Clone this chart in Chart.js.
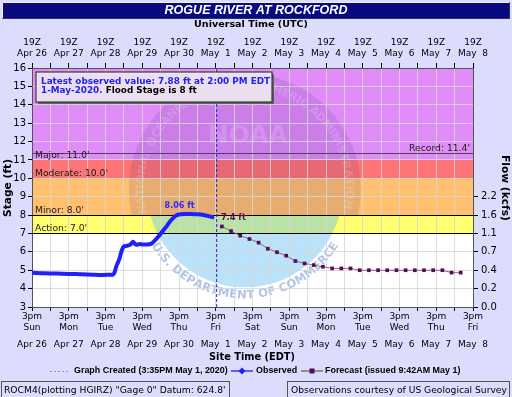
<!DOCTYPE html>
<html>
<head>
<meta charset="utf-8">
<script src="https://cdn.jsdelivr.net/npm/chart.js@4.4.1/dist/chart.umd.min.js"></script>
<style>
  html, body { margin: 0; padding: 0; background: #dcdcfc; }
  #wrap { position: absolute; left: 0; top: 0; width: 512px; height: 397px; }
</style>
</head>
<body>
<div id="wrap"><canvas id="myChart" width="512" height="397"></canvas></div>
<script>
// hours since Sun Apr 26 3pm EDT (19Z)
const obsHours = [0, 3, 8, 16, 24, 32, 40, 44, 50, 53, 54, 55, 56, 57, 58, 59, 60, 62, 64, 66, 67, 68, 70, 72, 75, 78, 80, 82, 84, 86, 88, 90, 92, 94, 96, 99, 104, 108, 112, 115, 117, 119];
const obsStage = [4.87, 4.85, 4.83, 4.82, 4.8, 4.78, 4.76, 4.74, 4.75, 4.76, 4.9, 5.2, 5.4, 5.6, 5.9, 6.15, 6.3, 6.33, 6.38, 6.55, 6.45, 6.38, 6.42, 6.4, 6.4, 6.45, 6.6, 6.78, 6.98, 7.2, 7.4, 7.64, 7.82, 7.97, 8.03, 8.06, 8.06, 8.04, 8.0, 7.95, 7.9, 7.88];

const fcstHours = [124, 130, 136, 142, 148, 154, 160, 166, 172, 178, 184, 190, 196, 202, 208, 214, 220, 226, 232, 238, 244, 250, 256, 262, 268, 274, 280];
const fcstStage = [7.38, 7.13, 6.88, 6.7, 6.5, 6.17, 5.98, 5.79, 5.5, 5.37, 5.28, 5.19, 5.1, 5.1, 5.1, 5.0, 5.0, 5.0, 5.0, 5.0, 5.0, 5.0, 5.0, 5.0, 5.0, 4.87, 4.87];

const createdHour = 120.6;

const dayNames = ["Sun", "Mon", "Tue", "Wed", "Thu", "Fri", "Sat", "Sun", "Mon", "Tue", "Wed", "Thu", "Fri"];
const dateLabels = ["Apr 26", "Apr 27", "Apr 28", "Apr 29", "Apr 30", "May  1", "May  2", "May  3", "May  4", "May  5", "May  6", "May  7", "May  8"];

const flowStages = [3, 4, 5, 6, 7, 8, 9];
const flowLabels = ["0.0", "0.2", "0.4", "0.7", "1.1", "1.6", "2.2"];

// flood categories
const bandLevels = [7, 8, 10, 11, 16];
const bandColors = ["#ffff70", "#ffc070", "#ff7474", "#e08cf8"];
const catNames = ["Action: 7.0'", "Minor: 8.0'", "Moderate: 10.0'", "Major: 11.0'"];
const catLevels = [7, 8, 10, 11];
const recordStage = 11.4;

function fitFont(ctx, text, weight, family, width) {
  ctx.font = weight + " 10px " + family;
  const w = ctx.measureText(text).width;
  return weight + " " + (10 * width / w).toFixed(2) + "px " + family;
}

function arcText(ctx, text, cx, cy, r, startAng, dir) {
  let ang = startAng;
  for (const ch of text) {
    const da = ctx.measureText(ch).width / r;
    const a = ang + dir * da / 2;
    ctx.save();
    ctx.translate(cx + r * Math.cos(a), cy + r * Math.sin(a));
    ctx.rotate(dir === 1 ? a + Math.PI / 2 : a - Math.PI / 2);
    ctx.fillText(ch, 0, 0);
    ctx.restore();
    ang += dir * da;
  }
}

function fitArc(ctx, text, family, r, span) {
  ctx.font = "bold 10px " + family;
  const w = ctx.measureText(text).width;
  ctx.font = "bold " + (10 * r * span / w).toFixed(2) + "px " + family;
}

const backdrop = {
  id: "backdrop",
  beforeDraw(chart) {
    const { ctx, chartArea: a, scales } = chart;
    const y = scales.y, x = scales.x;
    ctx.save();
    ctx.fillStyle = "#ffffff";
    ctx.fillRect(a.left, a.top, a.width, a.height);
    for (let i = 0; i < bandColors.length; i++) {
      const y1 = y.getPixelForValue(bandLevels[i + 1]);
      const y0 = y.getPixelForValue(bandLevels[i]);
      ctx.fillStyle = bandColors[i];
      ctx.fillRect(a.left, y1, a.width, y0 - y1);
    }
    // NOAA seal watermark
    ctx.beginPath();
    ctx.rect(a.left, a.top, a.width, a.height);
    ctx.clip();
    const cx = x.getPixelForValue(139), cy = y.getPixelForValue(9.4);
    const r1 = 92, r2 = 116, split = cy + 26;
    ctx.save();
    ctx.beginPath();
    ctx.rect(a.left, a.top, a.width, split - a.top);
    ctx.clip();
    ctx.fillStyle = "rgba(40,20,120,0.11)";
    ctx.beginPath();
    ctx.arc(cx, cy, r2, 0, Math.PI * 2);
    ctx.fill();
    ctx.restore();
    ctx.save();
    ctx.beginPath();
    ctx.rect(a.left, split, a.width, a.bottom - split);
    ctx.clip();
    ctx.fillStyle = "rgba(90,185,240,0.42)";
    ctx.beginPath();
    ctx.arc(cx, cy, r1 + 6, 0, Math.PI * 2);
    ctx.fill();
    ctx.restore();
    ctx.textAlign = "center";
    ctx.textBaseline = "middle";
    fitArc(ctx, "NATIONAL OCEANIC AND ATMOSPHERIC ADMINISTRATION", "'DejaVu Sans'", 104, 3.55);
    ctx.fillStyle = "rgba(255,255,255,0.16)";
    arcText(ctx, "NATIONAL OCEANIC AND ATMOSPHERIC ADMINISTRATION", cx, cy, 104, 2.9, 1);
    fitArc(ctx, "U.S. DEPARTMENT OF COMMERCE", "'DejaVu Sans'", 106, 2.05);
    ctx.fillStyle = "rgba(110,150,205,0.55)";
    arcText(ctx, "U.S. DEPARTMENT OF COMMERCE", cx, cy, 106, 2.6, -1);
    ctx.font = fitFont(ctx, "NOAA", "bold", "'DejaVu Sans'", 80);
    ctx.fillStyle = "rgba(255,255,255,0.16)";
    ctx.fillText("NOAA", cx + 3, cy - 53);
    ctx.restore();
  },
  beforeDatasetsDraw(chart) {
    const { ctx, chartArea: a, scales } = chart;
    const y = scales.y;
    ctx.save();
    ctx.lineWidth = 1;
    ctx.strokeStyle = "#4a4a4a";
    let py = Math.round(y.getPixelForValue(recordStage)) + 0.5;
    ctx.beginPath(); ctx.moveTo(a.left, py); ctx.lineTo(a.right, py); ctx.stroke();
    ctx.strokeStyle = "#000000";
    [7, 8].forEach(v => {
      py = Math.round(y.getPixelForValue(v)) + 0.5;
      ctx.beginPath(); ctx.moveTo(a.left, py); ctx.lineTo(a.right, py); ctx.stroke();
    });
    ctx.font = fitFont(ctx, "Moderate: 10.0'", "normal", "'DejaVu Sans'", 73);
    ctx.fillStyle = "#1a1a1a";
    ctx.textBaseline = "alphabetic";
    ctx.textAlign = "left";
    catNames.forEach((t, i) => {
      ctx.fillText(t, a.left + 3, y.getPixelForValue(catLevels[i]) - 2);
    });
    ctx.textAlign = "right";
    ctx.fillText("Record: " + recordStage.toFixed(1) + "'", a.right - 3, y.getPixelForValue(recordStage) - 2);
    ctx.restore();
  },
  afterDatasetsDraw(chart) {
    const { ctx, scales } = chart;
    const x = scales.x, y = scales.y;
    ctx.save();
    ctx.textBaseline = "middle";
    const mi = obsStage.indexOf(Math.max(...obsStage));
    ctx.font = fitFont(ctx, "8.06 ft", "bold", "'DejaVu Sans'", 30);
    ctx.fillStyle = "#2a2aff";
    ctx.textAlign = "center";
    ctx.fillText(obsStage[mi].toFixed(2) + " ft", x.getPixelForValue(obsHours[mi]) - 4, y.getPixelForValue(obsStage[mi]) - 8);
    ctx.font = fitFont(ctx, "7.4 ft", "bold", "'DejaVu Sans'", 25);
    ctx.fillStyle = "#5a0a5a";
    ctx.textAlign = "left";
    ctx.fillText(fcstStage[0].toFixed(1) + " ft", x.getPixelForValue(fcstHours[0]) - 1, y.getPixelForValue(fcstStage[0]) - 8.5);
    ctx.restore();
  },
  afterDraw(chart) {
    const { ctx } = chart;
    ctx.save();
    // title bar
    ctx.fillStyle = "#0a0a80";
    ctx.fillRect(2, 2, 508, 17);
    ctx.strokeStyle = "#f0f0ff";
    ctx.lineWidth = 1;
    ctx.beginPath(); ctx.moveTo(2.5, 18.5); ctx.lineTo(2.5, 2.5); ctx.lineTo(509.5, 2.5); ctx.stroke();
    ctx.strokeStyle = "#303060";
    ctx.beginPath(); ctx.moveTo(509.5, 2.5); ctx.lineTo(509.5, 18.5); ctx.lineTo(2.5, 18.5); ctx.stroke();
    ctx.fillStyle = "#ffffff";
    ctx.textAlign = "center";
    ctx.textBaseline = "middle";
    ctx.font = fitFont(ctx, "ROGUE RIVER AT ROCKFORD", "italic bold", "'Liberation Sans'", 183);
    ctx.fillText("ROGUE RIVER AT ROCKFORD", 256, 11);

    ctx.fillStyle = "#000000";
    ctx.font = fitFont(ctx, "Universal Time (UTC)", "bold", "'DejaVu Sans'", 114);
    ctx.fillText("Universal Time (UTC)", 251, 25);
    ctx.font = fitFont(ctx, "Site Time (EDT)", "bold", "'DejaVu Sans'", 86);
    ctx.fillText("Site Time (EDT)", 252, 357);

    // axis titles
    ctx.font = fitFont(ctx, "Stage (ft)", "bold", "'DejaVu Sans'", 58);
    ctx.save();
    ctx.translate(8, 188);
    ctx.rotate(-Math.PI / 2);
    ctx.fillText("Stage (ft)", 0, 0);
    ctx.restore();
    ctx.font = fitFont(ctx, "Flow (kcfs)", "bold", "'DejaVu Sans'", 66);
    ctx.save();
    ctx.translate(505, 188);
    ctx.rotate(Math.PI / 2);
    ctx.fillText("Flow (kcfs)", 0, 0);
    ctx.restore();

    // legend
    const ly = 371;
    ctx.lineWidth = 1;
    ctx.strokeStyle = "#8888ff";
    ctx.setLineDash([2, 2]);
    ctx.beginPath(); ctx.moveTo(50, ly + 0.5); ctx.lineTo(69, ly + 0.5); ctx.stroke();
    ctx.setLineDash([]);
    ctx.strokeStyle = "#6060ff";
    ctx.lineWidth = 2;
    ctx.beginPath(); ctx.moveTo(231, ly); ctx.lineTo(253, ly); ctx.stroke();
    ctx.fillStyle = "#2020ff";
    ctx.beginPath(); ctx.moveTo(242, ly - 3.5); ctx.lineTo(245.5, ly); ctx.lineTo(242, ly + 3.5); ctx.lineTo(238.5, ly); ctx.closePath(); ctx.fill();
    ctx.strokeStyle = "#909090";
    ctx.beginPath(); ctx.moveTo(301, ly); ctx.lineTo(323, ly); ctx.stroke();
    ctx.fillStyle = "#5a0a5a";
    ctx.fillRect(309.5, ly - 2.5, 5, 5);
    ctx.fillStyle = "#000000";
    ctx.textAlign = "left";
    ctx.font = fitFont(ctx, "Graph Created (3:35PM May 1, 2020)", "bold", "'Liberation Sans'", 154);
    ctx.fillText("Graph Created (3:35PM May 1, 2020)", 74, ly);
    ctx.fillText("Observed", 256, ly);
    ctx.fillText("Forecast (issued 9:42AM May 1)", 325, ly);

    // footer boxes
    ctx.strokeStyle = "#555555";
    ctx.lineWidth = 1;
    ctx.strokeRect(1.5, 381.5, 228, 17);
    ctx.strokeRect(287.5, 381.5, 222, 17);
    ctx.fillStyle = "#000000";
    ctx.font = fitFont(ctx, "ROCM4(plotting HGIRZ) \"Gage 0\" Datum: 624.8'", "normal", "'DejaVu Sans'", 222);
    ctx.fillText("ROCM4(plotting HGIRZ) \"Gage 0\" Datum: 624.8'", 4, 390.5);
    ctx.font = fitFont(ctx, "Observations courtesy of US Geological Survey", "normal", "'DejaVu Sans'", 216);
    ctx.fillText("Observations courtesy of US Geological Survey", 291, 390.5);

    // latest value box
    ctx.fillStyle = "rgba(90,90,90,0.9)";
    ctx.fillRect(38, 74, 236, 30);
    ctx.fillStyle = "rgba(244,232,250,0.93)";
    ctx.fillRect(36, 72, 236, 30);
    ctx.strokeStyle = "#3a3a3a";
    ctx.lineWidth = 1.2;
    ctx.strokeRect(36, 72, 236, 30);
    ctx.font = fitFont(ctx, "Latest observed value: 7.88 ft at 2:00 PM EDT", "bold", "'DejaVu Sans'", 229);
    ctx.fillStyle = "#2222ee";
    ctx.fillText("Latest observed value: 7.88 ft at 2:00 PM EDT", 41, 81.5);
    ctx.fillText("1-May-2020.", 41, 91);
    const w = ctx.measureText("1-May-2020. ").width;
    ctx.fillStyle = "#000000";
    ctx.fillText("Flood Stage is 8 ft", 41 + w, 91);
    ctx.restore();
  }
};

const tickFont = { family: "'DejaVu Sans'", size: 9 };
const gridColor = "rgba(215,215,215,0.85)";

new Chart("myChart", {
  type: "line",
  data: {
    datasets: [
      {
        label: "Observed",
        data: obsHours.map((h, i) => ({ x: h, y: obsStage[i] })),
        borderColor: "#2020ff",
        borderWidth: 4,
        pointRadius: 0,
        tension: 0.2,
      },
      {
        label: "Forecast",
        data: fcstHours.map((h, i) => ({ x: h, y: fcstStage[i] })),
        borderColor: "#8a6a8a",
        borderWidth: 1,
        pointStyle: "rect",
        pointRadius: 2.6,
        pointBorderWidth: 0,
        pointBackgroundColor: "#5a0a5a",
      },
      {
        label: "Graph Created",
        data: [{ x: createdHour, y: 3 }, { x: createdHour, y: 16 }],
        borderColor: "#2020ee",
        borderWidth: 1,
        borderDash: [3, 2],
        pointRadius: 0,
      },
    ],
  },
  options: {
    responsive: false,
    animation: false,
    layout: { padding: 0 },
    plugins: { legend: { display: false }, tooltip: { enabled: false } },
    scales: {
      x: {
        type: "linear", position: "bottom", min: 0, max: 288, weight: 0,
        afterFit: s => { s.height = 30; },
        afterBuildTicks: s => { s.ticks = []; for (let h = 0; h <= 288; h += 12) s.ticks.push({ value: h }); },
        ticks: {
          autoSkip: false, maxRotation: 0, padding: 0, color: "#000", font: tickFont,
          callback: v => (v % 24 === 0 ? ["3pm", dayNames[v / 24]] : ""),
        },
        grid: { color: gridColor, tickLength: 4, tickColor: "#000" },
        border: { color: "#555" },
      },
      xDate: {
        type: "linear", position: "bottom", min: 0, max: 288, weight: 1,
        afterFit: s => { s.height = 60; },
        afterBuildTicks: s => { s.ticks = []; for (let h = 0; h <= 288; h += 24) s.ticks.push({ value: h }); },
        ticks: { autoSkip: false, maxRotation: 0, padding: 2, color: "#000", font: tickFont, callback: v => dateLabels[v / 24] },
        grid: { display: false, drawTicks: false, tickLength: 0 },
        border: { display: false },
      },
      xTop: {
        type: "linear", position: "top", min: 0, max: 288,
        afterFit: s => { s.height = 68; },
        afterBuildTicks: s => { s.ticks = []; for (let h = 0; h <= 288; h += 12) s.ticks.push({ value: h }); },
        ticks: {
          autoSkip: false, maxRotation: 0, padding: 4, color: "#000", font: tickFont,
          callback: v => (v % 24 === 0 ? ["19Z", dateLabels[v / 24]] : ""),
        },
        grid: { drawOnChartArea: false, tickLength: 5, tickColor: "#000" },
        border: { color: "#555" },
      },
      y: {
        position: "left", min: 3, max: 16,
        afterFit: s => { s.width = 32; },
        ticks: { stepSize: 1, padding: 2, color: "#000", font: { family: "'DejaVu Sans'", size: 10 } },
        grid: { color: gridColor, tickLength: 4, tickColor: "#000" },
        border: { color: "#555" },
      },
      yFlow: {
        position: "right", min: 3, max: 16,
        afterFit: s => { s.width = 39; },
        afterBuildTicks: s => { s.ticks = flowStages.map(v => ({ value: v })); },
        ticks: {
          padding: 3, color: "#000", font: { family: "'DejaVu Sans'", size: 10 },
          callback: v => flowLabels[flowStages.indexOf(v)],
        },
        grid: { drawOnChartArea: false, tickLength: 5, tickColor: "#000" },
        border: { color: "#555" },
      },
    },
  },
  plugins: [backdrop],
});
</script>
</body>
</html>
